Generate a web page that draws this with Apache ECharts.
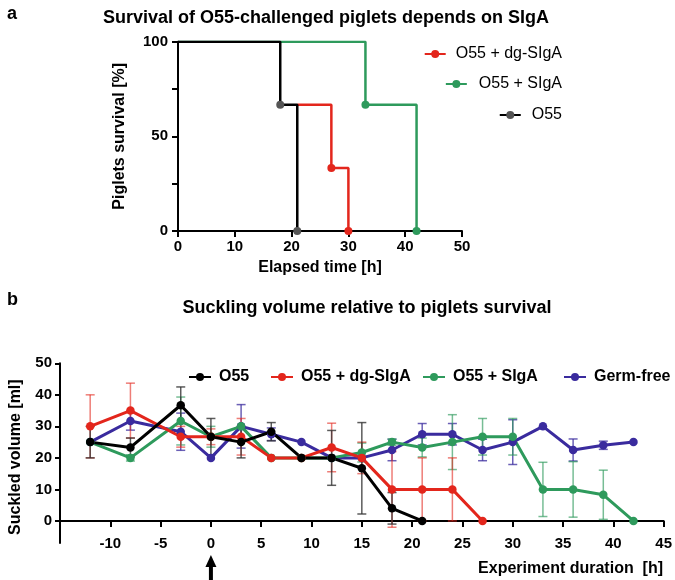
<!DOCTYPE html>
<html>
<head>
<meta charset="utf-8">
<script src="https://cdn.jsdelivr.net/npm/echarts@6/dist/echarts.min.js"></script>
<style>
html,body{margin:0;padding:0;background:#fff;}
#c{width:675px;height:580px;}
</style>
</head>
<body>
<div id="c"></div>
<script>
// ---------- Panel a: survival (Kaplan-Meier step data) ----------
const survTimeO55 = [0, 18, 21];
const survO55 = [100, 66.67, 0];
const survTimeDg = [21, 27, 30];
const survDg = [66.67, 33.33, 0];
const survTimeSIgA = [0, 33, 42];
const survSIgA = [100, 66.67, 0];

// ---------- Panel b: suckled volume ----------
const hours = [-12, -8, -3, 0, 3, 6, 9, 12, 15, 18, 21, 24, 27, 30, 33, 36, 39, 42];
const volO55 = [25, 23.3, 36.7, 26.7, 25, 28.3, 20, 20, 16.7, 4, 0, null, null, null, null, null, null, null];
const errO55 = [5, 3, 5.8, 5.8, 5, 2.9, 0, 8.7, 14.5, 5, 0, null, null, null, null, null, null, null];
const volDg = [30, 35, 26.7, 26.7, 26.7, 20, 20, 23.3, 20, 10, 10, 10, 0, null, null, null, null, null];
const errDg = [10, 8.7, 3.3, 2.5, 5.8, 0, 0, 7.7, 5, 12, 10, 10, 0, null, null, null, null, null];
const volSIgA = [25, 20, 31.7, 26.7, 30, 20, 20, 20, 21.7, 25, 23.3, 25, 26.7, 26.7, 10, 10, 8.3, 0];
const errSIgA = [0, 1, 7.6, 3.3, 0, 0, 0, 0, 3, 1, 3, 8.7, 5.8, 5.8, 8.6, 8.8, 7.8, 0];
const volGF = [25, 31.7, 28.3, 20, 30, 27.5, 25, 20, 20, 22.5, 27.5, 27.5, 22.5, 25, 30, 22.5, 24, 25];
const errGF = [0, 2.9, 5.9, 0, 6.9, 2, 0, 0, 0, 3.4, 3.4, 3.4, 3.4, 7.1, 0, 3.5, 1.3, 0];

const yTicksB = [0, 10, 20, 30, 40, 50];

const RED = '#E3261C', GREEN = '#2E9A5C', PURPLE = '#3A2B9E', BLACK = '#000000';
const FONT = "'Liberation Sans', Arial, Helvetica, sans-serif";

function stepData(t, v) {
  return t.map((x, i) => i === 0 ? { value: [x, v[i]], symbol: 'none' } : [x, v[i]]);
}
function lineData(vals) {
  const out = [];
  hours.forEach((h, i) => { if (vals[i] != null) out.push([h, vals[i]]); });
  return out;
}
function errData(vals, errs) {
  const out = [];
  hours.forEach((h, i) => {
    if (vals[i] != null && errs[i]) out.push([h, vals[i] - errs[i], vals[i] + errs[i]]);
  });
  return out;
}
function errSeries(name, vals, errs, color, opacity) {
  return {
    name: name, type: 'custom', xAxisIndex: 1, yAxisIndex: 1, silent: true,
    data: errData(vals, errs),
    renderItem: function (params, api) {
      const x = api.value(0);
      const top = api.coord([x, api.value(2)]);
      const bot = api.coord([x, api.value(1)]);
      const hw = 4.5;
      const st = { stroke: color, lineWidth: 1.5, opacity: opacity };
      return {
        type: 'group',
        children: [
          { type: 'line', shape: { x1: top[0], y1: top[1], x2: bot[0], y2: bot[1] }, style: st },
          { type: 'line', shape: { x1: top[0] - hw, y1: top[1], x2: top[0] + hw, y2: top[1] }, style: st },
          { type: 'line', shape: { x1: bot[0] - hw, y1: bot[1], x2: bot[0] + hw, y2: bot[1] }, style: st }
        ]
      };
    }
  };
}
function volSeries(name, vals, color) {
  return {
    name: name, type: 'line', xAxisIndex: 1, yAxisIndex: 1,
    data: lineData(vals), symbol: 'circle', symbolSize: 8.5,
    lineStyle: { color: color, width: 3 }, itemStyle: { color: color },
    emphasis: { disabled: true }, animation: false
  };
}

const chart = echarts.init(document.getElementById('c'), null, { renderer: 'canvas' });

const axisLineStyle = { color: '#000', width: 2 };
const labelStyle = { color: '#000', fontWeight: 'bold', fontSize: 15, fontFamily: FONT };

const option = {
  animation: false,
  backgroundColor: '#fff',
  textStyle: { fontFamily: FONT },
  title: [
    { text: 'a', left: 2, top: 0, textStyle: { fontSize: 18, fontWeight: 'bold', color: '#000', fontFamily: FONT } },
    { text: 'Survival of O55-challenged piglets depends on SIgA', left: 321, textAlign: 'center', top: 4,
      textStyle: { fontSize: 18, fontWeight: 'bold', color: '#000', fontFamily: FONT } },
    { text: 'b', left: 2, top: 286, textStyle: { fontSize: 18, fontWeight: 'bold', color: '#000', fontFamily: FONT } },
    { text: 'Suckling volume relative to piglets survival', left: 362, textAlign: 'center', top: 294,
      textStyle: { fontSize: 18, fontWeight: 'bold', color: '#000', fontFamily: FONT } }
  ],
  legend: [
    { data: ['a:O55 + dg-SIgA'], right: 108, top: 41, orient: 'vertical', itemWidth: 21, itemHeight: 10,
      formatter: n => n.slice(2), textStyle: { fontSize: 16, color: '#000', padding: [0, 0, 0, 5], fontFamily: FONT } },
    { data: ['a:O55 + SIgA'], right: 108, top: 71, orient: 'vertical', itemWidth: 21, itemHeight: 10,
      formatter: n => n.slice(2), textStyle: { fontSize: 16, color: '#000', padding: [0, 0, 0, 7], fontFamily: FONT } },
    { data: ['a:O55'], right: 108, top: 102, orient: 'vertical', itemWidth: 21, itemHeight: 10,
      formatter: n => n.slice(2), textStyle: { fontSize: 16, color: '#000', padding: [0, 0, 0, 6], fontFamily: FONT } },
    { data: ['b:O55'], left: 183, top: 364, itemWidth: 22, itemHeight: 10,
      formatter: n => n.slice(2), textStyle: { fontSize: 16, fontWeight: 'bold', color: '#000', padding: [0, 0, 0, 3], fontFamily: FONT } },
    { data: ['b:O55 + dg-SIgA'], left: 265, top: 364, itemWidth: 22, itemHeight: 10,
      formatter: n => n.slice(2), textStyle: { fontSize: 16, fontWeight: 'bold', color: '#000', padding: [0, 0, 0, 3], fontFamily: FONT } },
    { data: ['b:O55 + SIgA'], left: 417, top: 364, itemWidth: 22, itemHeight: 10,
      formatter: n => n.slice(2), textStyle: { fontSize: 16, fontWeight: 'bold', color: '#000', padding: [0, 0, 0, 3], fontFamily: FONT } },
    { data: ['b:Germ-free'], left: 558, top: 364, itemWidth: 22, itemHeight: 10,
      formatter: n => n.slice(2), textStyle: { fontSize: 16, fontWeight: 'bold', color: '#000', padding: [0, 0, 0, 3], fontFamily: FONT } }
  ],
  grid: [
    { left: 178, right: 213, top: 41.7, height: 189.3 },
    { left: 53, right: 7, top: 363.3, height: 179.7 }
  ],
  xAxis: [
    { type: 'value', gridIndex: 0, min: 0, max: 50, interval: 10,
      axisLine: { onZero: false, lineStyle: axisLineStyle },
      axisTick: { length: 6, lineStyle: { width: 2, color: '#000' } },
      axisLabel: Object.assign({ margin: 8 }, labelStyle),
      splitLine: { show: false },
      name: 'Elapsed time [h]', nameLocation: 'middle', nameGap: 29,
      nameTextStyle: { fontSize: 16, fontWeight: 'bold', color: '#000', fontFamily: FONT } },
    { type: 'value', gridIndex: 1, min: -15, max: 45, interval: 5,
      axisLine: { onZero: true, lineStyle: axisLineStyle },
      axisTick: { length: 6, lineStyle: { width: 2, color: '#000' } },
      axisLabel: Object.assign({ margin: -7, formatter: v => (v === -15 ? '' : String(v)) }, labelStyle),
      splitLine: { show: false } }
  ],
  yAxis: [
    { type: 'value', gridIndex: 0, min: 0, max: 100, interval: 50,
      axisLine: { show: true, lineStyle: axisLineStyle },
      axisTick: { show: true, length: 6, lineStyle: { width: 2, color: '#000' } },
      minorTick: { show: true, splitNumber: 2, length: 6, lineStyle: { width: 2, color: '#000' } },
      axisLabel: Object.assign({ margin: 10 }, labelStyle),
      splitLine: { show: false },
      name: 'Piglets survival [%]', nameLocation: 'middle', nameGap: 50,
      nameTextStyle: { fontSize: 16, fontWeight: 'bold', color: '#000', fontFamily: FONT } },
    { type: 'value', gridIndex: 1, min: -7, max: 50,
      axisLine: { show: true, onZero: false, lineStyle: axisLineStyle },
      axisTick: { show: true, length: 5, customValues: yTicksB, lineStyle: { width: 2, color: '#000' } },
      axisLabel: Object.assign({ margin: 8, customValues: yTicksB }, labelStyle),
      splitLine: { show: false },
      name: 'Suckled volume [ml]', nameLocation: 'middle', nameGap: 36,
      nameTextStyle: { fontSize: 16, fontWeight: 'bold', color: '#000', fontFamily: FONT, padding: [0, 0, 0, -8] } }
  ],
  series: [
    // panel a
    { name: 'a:O55 + SIgA', type: 'line', xAxisIndex: 0, yAxisIndex: 0, step: 'end',
      data: stepData(survTimeSIgA, survSIgA), symbol: 'circle', symbolSize: 8,
      lineStyle: { color: GREEN, width: 2.5 }, itemStyle: { color: GREEN } },
    { name: 'a:O55 + dg-SIgA', type: 'line', xAxisIndex: 0, yAxisIndex: 0, step: 'end',
      data: stepData(survTimeDg, survDg), symbol: 'circle', symbolSize: 8,
      lineStyle: { color: RED, width: 2.5 }, itemStyle: { color: RED } },
    { name: 'a:O55', type: 'line', xAxisIndex: 0, yAxisIndex: 0, step: 'end',
      data: stepData(survTimeO55, survO55), symbol: 'circle', symbolSize: 8,
      lineStyle: { color: BLACK, width: 2.5 }, itemStyle: { color: '#555555' } },
    // panel b (bottom to top: Germ-free, SIgA, dg-SIgA, O55)
    errSeries('errGF', volGF, errGF, PURPLE, 0.75),
    volSeries('b:Germ-free', volGF, PURPLE),
    errSeries('errSIgA', volSIgA, errSIgA, GREEN, 0.65),
    volSeries('b:O55 + SIgA', volSIgA, GREEN),
    errSeries('errDg', volDg, errDg, RED, 0.6),
    volSeries('b:O55 + dg-SIgA', volDg, RED),
    errSeries('errO55', volO55, errO55, '#333333', 0.8),
    volSeries('b:O55', volO55, BLACK)
  ]
};
chart.setOption(option);

// arrow marking time 0 on the bottom axis
const px = chart.convertToPixel({ xAxisIndex: 1 }, 0);
chart.setOption({
  graphic: [
    { type: 'polygon', shape: { points: [[px, 555], [px - 5.5, 567], [px + 5.5, 567]] }, style: { fill: '#000' } },
    { type: 'rect', shape: { x: px - 2, y: 566, width: 4, height: 14 }, style: { fill: '#000' } },
    { type: 'text', right: 12, top: 561, style: { text: 'Experiment duration  [h]', fill: '#000', font: "bold 16px 'Liberation Sans', Arial, sans-serif" } }
  ]
});
</script>
</body>
</html>
